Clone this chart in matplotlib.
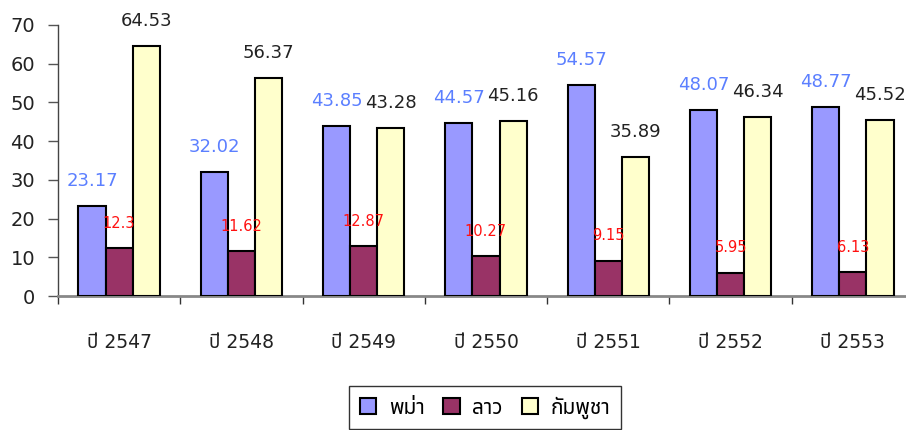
import matplotlib
matplotlib.use("Agg")
import matplotlib.pyplot as plt
import numpy as np

plt.rcParams['font.family'] = ['DejaVu Sans', 'Noto Sans Thai', 'Noto Sans Thai UI', 'Sarabun']

categories = ["ปี 2547", "ปี 2548", "ปี 2549", "ปี 2550", "ปี 2551", "ปี 2552", "ปี 2553"]
series_names = ["พม่า", "ลาว", "กัมพูชา"]
burma = [23.17, 32.02, 43.85, 44.57, 54.57, 48.07, 48.77]
laos = [12.3, 11.62, 12.87, 10.27, 9.15, 5.95, 6.13]
cambodia = [64.53, 56.37, 43.28, 45.16, 35.89, 46.34, 45.52]
y_ticks = [0, 10, 20, 30, 40, 50, 60, 70]

series = [burma, laos, cambodia]
colors = ["#9999FF", "#993366", "#FFFFCC"]
label_colors = ["#5B7FFF", "#FF1010", "#222222"]
label_sizes = [13, 10.5, 13]

fig = plt.figure(figsize=(9.06, 4.3), dpi=100)
ax = fig.add_axes([58/906, (430-296)/430, 856/906, (296-25)/430])

x = np.arange(len(categories))
w = 0.222
for i, (vals, c) in enumerate(zip(series, colors)):
    pos = x + (i - 1) * w
    ax.bar(pos, vals, width=w, color=c, edgecolor="black", linewidth=1.5,
           label=series_names[i], zorder=3)
    for p, v in zip(pos, vals):
        ax.annotate(f"{v:g}", (p, v), xytext=(0, 18), textcoords="offset points",
                    ha="center", va="center", color=label_colors[i],
                    fontsize=label_sizes[i], zorder=4, annotation_clip=False)

ax.set_xlim(-0.5, len(categories) - 0.5)
ax.set_ylim(0, 70)
ax.set_yticks(y_ticks)
ax.tick_params(axis="y", labelsize=14, length=7.5, width=1, color="#555555",
               labelcolor="#222222", pad=9)
ax.set_xticks(np.arange(len(categories) + 1) - 0.5)
ax.set_xticklabels([])
ax.set_xticks(x, minor=True)
ax.set_xticklabels(categories, minor=True, fontsize=13.5, color="#222222")
ax.tick_params(axis="x", which="major", length=6, width=1, color="#333333", direction="out")
ax.tick_params(axis="x", which="minor", length=0, pad=27)

for s in ["top", "right"]:
    ax.spines[s].set_visible(False)
ax.spines["bottom"].set_color("#888888")
ax.spines["bottom"].set_linewidth(2)
ax.spines["left"].set_color("#444444")
ax.spines["left"].set_linewidth(1)

leg = fig.legend(loc="upper center", bbox_to_anchor=(485/906, 1 - 386/430), ncol=3,
                 fontsize=15, frameon=True, fancybox=False, edgecolor="black",
                 handlelength=0.8, handleheight=0.8, handletextpad=0.6,
                 columnspacing=0.9, borderpad=0.5, borderaxespad=0)
leg.get_frame().set_linewidth(1)

fig.savefig("out.png", dpi=100)
